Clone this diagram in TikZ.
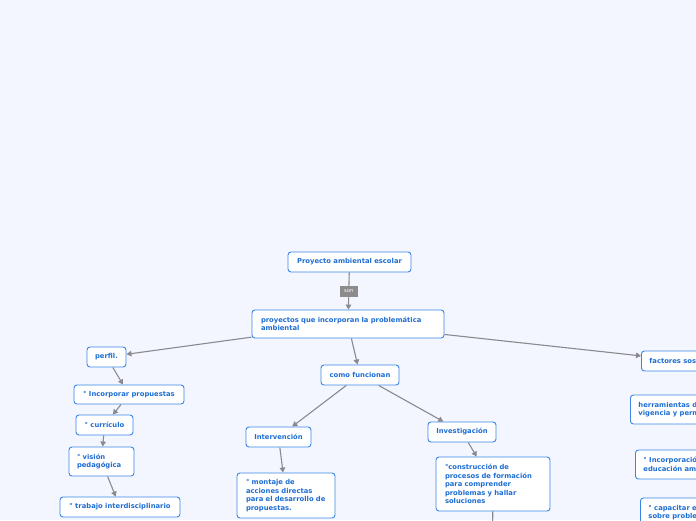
\documentclass[tikz,border=0pt]{standalone}
\usepackage{fontspec}
\setmainfont{DejaVu Sans}
\usetikzlibrary{arrows.meta}
\definecolor{bgc}{HTML}{F3F6FE}
\definecolor{bordc}{HTML}{3A86E6}
\definecolor{txtc}{HTML}{1E6ED3}
\definecolor{linec}{HTML}{8A8A8E}
\definecolor{labc}{HTML}{8C8C8C}
\newcommand{\bfs}{\fontsize{6.8}{8.6}\selectfont\bfseries}
\tikzset{
  box/.style={draw=bordc, fill=white, rounded corners=3pt, line width=0.9pt,
    text=txtc, font=\bfs, inner sep=0pt, align=center},
  mbox/.style={box, align=left},
  conn/.style={draw=linec, line width=1.1pt, -{Triangle[length=5pt,width=5.5pt]}},
  plain/.style={draw=linec, line width=1.1pt},
  lab/.style={fill=labc, text=white, font=\fontsize{5.2}{6}\selectfont, inner sep=0pt,
    minimum width=18pt, minimum height=11pt}
}
\begin{document}
\begin{tikzpicture}[x=1pt,y=-1pt]
\fill[bgc] (0,0) rectangle (696,520);
\clip (0,0) rectangle (696,520);
% nodes
\node[box, minimum width=123pt, minimum height=20pt] (n1) at (349.5,262) {Proyecto ambiental escolar};
\node[mbox, minimum width=192pt, minimum height=28pt, text width=174pt] (n3) at (348,324) {\mbox{proyectos que incorporan la problemática}\\ambiental};
\node[box, minimum width=39pt, minimum height=20pt] (n4) at (106.5,357) {perfil.};
\node[box, minimum width=110pt, minimum height=19pt] (n5) at (129,394.5) {° Incorporar propuestas};
\node[box, minimum width=57pt, minimum height=20pt] (n6) at (104.5,425) {° currículo};
\node[mbox, minimum width=65pt, minimum height=29pt, text width=49pt] (n7) at (101.5,461.5) {° visión\\pedagógica};
\node[box, minimum width=120pt, minimum height=20pt] (n8) at (120,507) {° trabajo interdisciplinario};
\node[box, minimum width=78pt, minimum height=20pt] (n9) at (360,375) {como funcionan};
\node[box, minimum width=65pt, minimum height=20pt] (n10) at (278.5,437) {Intervención};
\node[mbox, minimum width=98pt, minimum height=45pt, text width=80pt] (n11) at (286,495.5) {° montaje de\\\mbox{acciones directas}\\\mbox{para el desarrollo de}\\propuestas.};
\node[box, minimum width=68pt, minimum height=20pt] (n12) at (462,432) {Investigación};
\node[mbox, minimum width=114pt, minimum height=54pt, text width=96pt] (n13) at (493,484) {\mbox{°construcción de}\\\mbox{procesos de formación}\\\mbox{para comprender}\\\mbox{problemas y hallar}\\soluciones};
\node[box, anchor=west, minimum height=20pt, inner xsep=8pt] (n14) at (641,361) {factores sostenibles};
\node[mbox, anchor=west, minimum height=29pt, inner xsep=8pt] (n15) at (630,409.5) {herramientas de\\vigencia y permanencia};
\node[mbox, anchor=west, minimum height=29pt, inner xsep=8pt] (n16) at (635,464.5) {° Incorporación de\\educación ambiental};
\node[mbox, anchor=west, minimum height=29pt, inner xsep=8pt] (n17) at (640,512.5) {° capacitar en\\sobre problemas};
\coordinate (c13) at (492.5,540);
% connectors
\draw[conn] (n1) -- node[lab] {son} (n3);
\draw[conn] (n3) -- (n4);
\draw[conn] (n3) -- (n9);
\draw[conn] (n3) -- (n14);
\draw[conn] (n4) -- (n5);
\draw[conn] (n5) -- (n6);
\draw[conn] (n6) -- (n7);
\draw[conn] (n7) -- (n8);
\draw[conn] (n9) -- (n10);
\draw[conn] (n9) -- (n12);
\draw[conn] (n10) -- (n11);
\draw[conn] (n12) -- (n13);
\draw[plain] (n13) -- (c13);
\end{tikzpicture}
\end{document}
